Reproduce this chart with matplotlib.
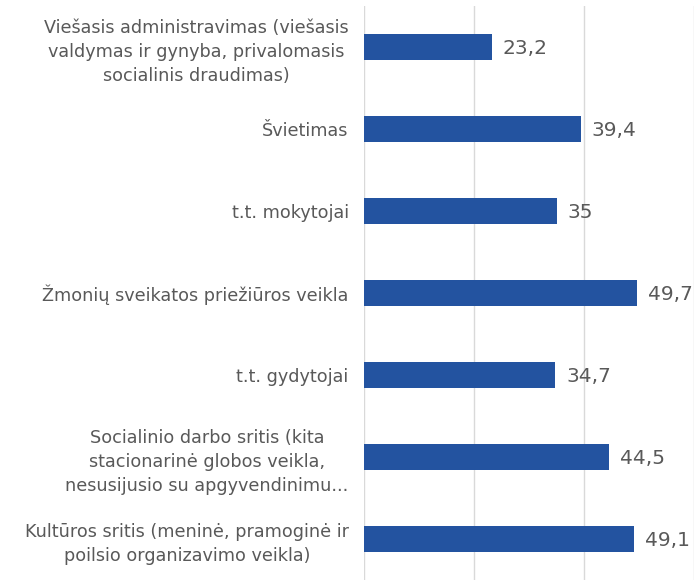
import matplotlib.pyplot as plt
import numpy as np

categories = [
    "Viešasis administravimas (viešasis\nvaldymas ir gynyba, privalomasis\nsocialinis draudimas)",
    "Švietimas",
    "t.t. mokytojai",
    "Žmonių sveikatos priežiūros veikla",
    "t.t. gydytojai",
    "Socialinio darbo sritis (kita\nstacionarinė globos veikla,\nnesusijusio su apgyvendinimu...",
    "Kultūros sritis (meninė, pramoginė ir\npoilsio organizavimo veikla)",
]
values = [23.2, 39.4, 35, 49.7, 34.7, 44.5, 49.1]
value_labels = ["23,2", "39,4", "35", "49,7", "34,7", "44,5", "49,1"]

bar_color = "#2353A0"
text_color = "#595959"

fig = plt.figure(figsize=(6.97, 5.8), dpi=100)
ax = fig.add_axes([364 / 697, 0, 330 / 697, 574 / 580])

y = np.arange(len(categories))
ax.barh(y, values, height=0.32, color=bar_color, zorder=3)
ax.set_ylim(len(categories) - 0.5, -0.5)
ax.set_xlim(0, 60)

ax.set_xticks([0, 20, 40, 60])
ax.set_xticklabels([])
ax.grid(axis="x", color="#D9D9D9", linewidth=1, zorder=0)
ax.tick_params(length=0)
for s in ax.spines.values():
    s.set_visible(False)

ax.set_yticks(y)
ax.set_yticklabels(categories, fontsize=12.7, color=text_color, linespacing=1.45)
ax.tick_params(axis="y", pad=11)
for t in ax.get_yticklabels():
    t.set_multialignment("center")

for yi, v, lab in zip(y, values, value_labels):
    ax.annotate(lab, (v, yi + 0.02), xytext=(8, 0), textcoords="offset points",
                va="center", ha="left", fontsize=14.5, color=text_color,
                annotation_clip=False)

fig.savefig("out.png", dpi=100)
